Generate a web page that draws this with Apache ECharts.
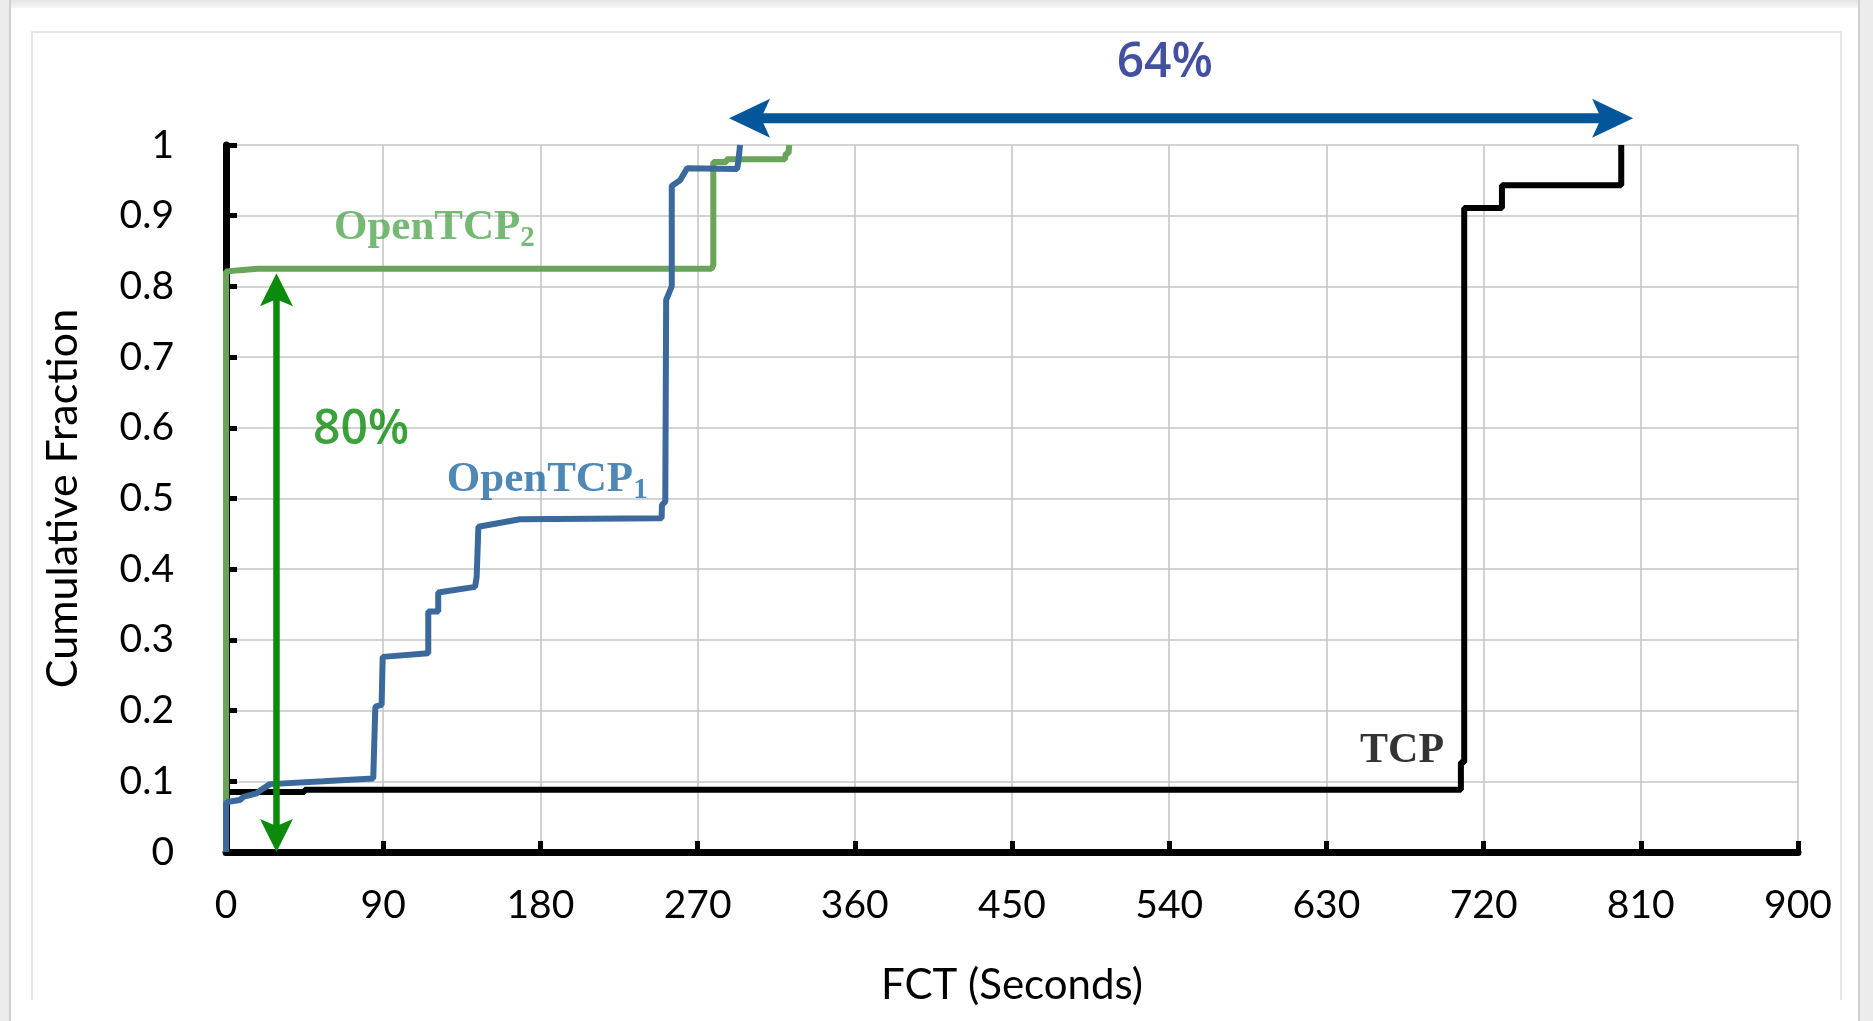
<!DOCTYPE html>
<html>
<head>
<meta charset="utf-8">
<script src="https://cdn.jsdelivr.net/npm/echarts@6/dist/echarts.min.js"></script>
<style>
html,body{margin:0;padding:0;background:#ffffff;}
#c{width:1873px;height:1021px;}
</style>
</head>
<body>
<div id="c"></div>
<script>
// ---------- data ----------
const xTickLabels = ['0','90','180','270','360','450','540','630','720','810','900'];
const yTickLabels = ['0','0.1','0.2','0.3','0.4','0.5','0.6','0.7','0.8','0.9','1'];

// TCP (black)
const tcpFct  = [0, 0, 45, 45, 707, 707, 708.9, 708.9, 730.5, 730.5, 798.8, 798.8];
const tcpFrac = [0, 0.085, 0.085, 0.088, 0.088, 0.127, 0.127, 0.911, 0.911, 0.943, 0.943, 1.0];

// OpenTCP2 (green)
const open2Fct  = [0, 0, 8, 18, 278.0, 279.0, 279.0, 286.6, 286.6, 320.0, 320.5, 322.0, 322.5];
const open2Frac = [0, 0.821, 0.823, 0.825, 0.825, 0.830, 0.976, 0.976, 0.980, 0.980, 0.988, 0.988, 1.0];

// OpenTCP1 (blue)
const open1Fct  = [0, 0, 1.3, 8, 9.9, 17.6, 19.5, 25.2, 55.7, 84.3, 85.5, 89.1, 89.7, 115.8, 115.8, 121.5, 121.5, 142.6, 143.5, 144.5, 168.3, 249.4, 249.6, 251.5, 252.0, 255.2, 255.2, 260.0, 264.0, 292.6, 293.3, 294.3];
const open1Frac = [0, 0.069, 0.071, 0.0735, 0.078, 0.083, 0.087, 0.096, 0.100, 0.104, 0.2055, 0.208, 0.276, 0.281, 0.340, 0.340, 0.367, 0.375, 0.389, 0.460, 0.4706, 0.472, 0.491, 0.4955, 0.781, 0.800, 0.942, 0.950, 0.967, 0.966, 0.976, 1.0];

// annotation arrows [x1, y1, x2, y2] in data units
const reductionArrow = [[288, 1.038, 805.6, 1.038]];
const fractionArrow  = [[28.9, 0, 28.9, 0.8185]];

// annotation texts
const noteOpen2 = [61.8, 0.883];
const noteOpen1 = [126.4, 0.526];
const noteTcp   = [649.3, 0.143];
const note64    = [537.5, 1.115];
const note80    = [49.8, 0.596];

// ---------- chart ----------
const zip = (a, b) => a.map((v, i) => [v, b[i]]);

function arrowRenderer(color, headLen, headHalf, notch, shaftW) {
  return function (params, api) {
    const p1 = api.coord([api.value(0), api.value(1)]);
    const p2 = api.coord([api.value(2), api.value(3)]);
    const dx = p2[0] - p1[0], dy = p2[1] - p1[1];
    const L = Math.hypot(dx, dy);
    const ux = dx / L, uy = dy / L;
    const nx = -uy, ny = ux;
    function head(tip, s) {
      const bx = tip[0] - s * ux * headLen, by = tip[1] - s * uy * headLen;
      const cx = tip[0] - s * ux * (headLen - notch), cy = tip[1] - s * uy * (headLen - notch);
      return {
        type: 'polygon',
        shape: { points: [tip, [bx + nx * headHalf, by + ny * headHalf], [cx, cy], [bx - nx * headHalf, by - ny * headHalf]] },
        style: { fill: color }
      };
    }
    const inset = headLen - notch - 1;
    return {
      type: 'group',
      children: [
        {
          type: 'line',
          shape: { x1: p1[0] + ux * inset, y1: p1[1] + uy * inset, x2: p2[0] - ux * inset, y2: p2[1] - uy * inset },
          style: { stroke: color, lineWidth: shaftW }
        },
        head(p1, -1),
        head(p2, 1)
      ]
    };
  };
}

function noteSeries(pt, label) {
  return {
    type: 'scatter',
    clip: false,
    silent: true,
    symbolSize: 0,
    z: 6,
    data: [pt],
    label: Object.assign({ show: true, position: [0, 0] }, label)
  };
}

const chart = echarts.init(document.getElementById('c'), null, { renderer: 'canvas' });

const axisFont = 'Lato, "Noto Sans", sans-serif';

chart.setOption({
  animation: false,
  backgroundColor: '#ffffff',
  graphic: [
    { type: 'rect', z: -10, shape: { x: 0, y: 0, width: 1873, height: 8 },
      style: { fill: new echarts.graphic.LinearGradient(0, 0, 0, 1, [{ offset: 0, color: '#e4e4e4' }, { offset: 1, color: '#f6f6f6' }]) } },
    { type: 'rect', z: -10, shape: { x: 0, y: 0, width: 11, height: 1021 }, style: { fill: '#ececec' } },
    { type: 'rect', z: -10, shape: { x: 9, y: 0, width: 2, height: 1021 }, style: { fill: '#cfcfcf' } },
    { type: 'rect', z: -10, shape: { x: 1859, y: 0, width: 14, height: 1021 }, style: { fill: '#ececec' } },
    { type: 'rect', z: -10, shape: { x: 1858, y: 0, width: 2, height: 1021 }, style: { fill: '#cfcfcf' } },
    { type: 'polyline', z: -10, shape: { points: [[32, 1000], [32, 32], [1841, 32], [1841, 1000]] },
      style: { stroke: '#dedede', lineWidth: 1.5, fill: null } }
  ],
  grid: { left: 226, top: 145, width: 1572, height: 707, containLabel: false, outerBoundsMode: 'none' },
  xAxis: {
    type: 'value', min: 0, max: 900, interval: 90,
    axisLine: { show: true, onZero: false, lineStyle: { color: '#000', width: 7 } },
    axisTick: { show: true, inside: true, length: 11, lineStyle: { color: '#000', width: 5 } },
    axisLabel: { show: true, margin: 34, fontSize: 39, fontFamily: axisFont, color: '#000',
      showMinLabel: true, showMaxLabel: true,
      formatter: v => xTickLabels[Math.round(v / 90)] },
    splitLine: { show: true, lineStyle: { color: '#c6c6c6', width: 1.6 } },
    name: 'FCT (Seconds)', nameLocation: 'middle', nameGap: 112,
    nameTextStyle: { fontSize: 42, fontFamily: axisFont, color: '#000' }
  },
  yAxis: {
    type: 'value', min: 0, max: 1, interval: 0.1,
    axisLine: { show: true, onZero: false, lineStyle: { color: '#000', width: 7 } },
    axisTick: { show: true, inside: true, length: 11, lineStyle: { color: '#000', width: 5 } },
    axisLabel: { show: true, margin: 52, fontSize: 39, fontFamily: axisFont, color: '#000',
      showMinLabel: true, showMaxLabel: true,
      formatter: v => yTickLabels[Math.round(v * 10)] },
    splitLine: { show: true, lineStyle: { color: '#c6c6c6', width: 1.6 } },
    name: 'Cumulative Fraction', nameLocation: 'middle', nameGap: 141,
    nameTextStyle: { fontSize: 43, fontFamily: axisFont, color: '#000' }
  },
  series: [
    { name: 'TCP', type: 'line', data: zip(tcpFct, tcpFrac), showSymbol: false, symbol: 'none', z: 2,
      lineStyle: { color: '#000000', width: 6 } },
    { name: 'OpenTCP2', type: 'line', data: zip(open2Fct, open2Frac), showSymbol: false, symbol: 'none', z: 3,
      lineStyle: { color: '#6aa35a', width: 6 } },
    { name: 'OpenTCP1', type: 'line', data: zip(open1Fct, open1Frac), showSymbol: false, symbol: 'none', z: 4,
      lineStyle: { color: '#3b699c', width: 6 } },
    { type: 'custom', clip: false, silent: true, z: 5, data: reductionArrow,
      encode: { x: [0, 2], y: [1, 3] },
      renderItem: arrowRenderer('#03569a', 41, 19.5, 9, 10) },
    { type: 'custom', clip: false, silent: true, z: 5, data: fractionArrow,
      encode: { x: [0, 2], y: [1, 3] },
      renderItem: arrowRenderer('#0b8a0b', 33, 16.5, 7, 6.5) },
    noteSeries(noteOpen2, {
      formatter: '{m|OpenTCP}{s|2}', align: 'left', verticalAlign: 'middle',
      rich: {
        m: { fontFamily: '"Liberation Serif", serif', fontWeight: 'bold', fontSize: 43, lineHeight: 50, color: '#52a852' },
        s: { fontFamily: '"Liberation Serif", serif', fontWeight: 'bold', fontSize: 29, lineHeight: 30, verticalAlign: 'bottom', color: '#52a852' }
      }
    }),
    noteSeries(noteOpen1, {
      formatter: '{m|OpenTCP}{s|1}', align: 'left', verticalAlign: 'middle',
      rich: {
        m: { fontFamily: '"Liberation Serif", serif', fontWeight: 'bold', fontSize: 43, lineHeight: 50, color: '#236aa3' },
        s: { fontFamily: '"Liberation Serif", serif', fontWeight: 'bold', fontSize: 29, lineHeight: 30, verticalAlign: 'bottom', color: '#236aa3' }
      }
    }),
    noteSeries(noteTcp, {
      formatter: 'TCP', align: 'left', verticalAlign: 'middle',
      fontFamily: '"Liberation Serif", serif', fontWeight: 'bold', fontSize: 42, color: '#000'
    }),
    noteSeries(note64, {
      formatter: '64%', align: 'center', verticalAlign: 'middle',
      fontFamily: '"Open Sans", sans-serif', fontWeight: 600, fontSize: 48, color: '#14248a'
    }),
    noteSeries(note80, {
      formatter: '80%', align: 'left', verticalAlign: 'middle',
      fontFamily: '"Open Sans", sans-serif', fontWeight: 600, fontSize: 48, color: '#0a8a0a'
    })
  ]
});
</script>
</body>
</html>
